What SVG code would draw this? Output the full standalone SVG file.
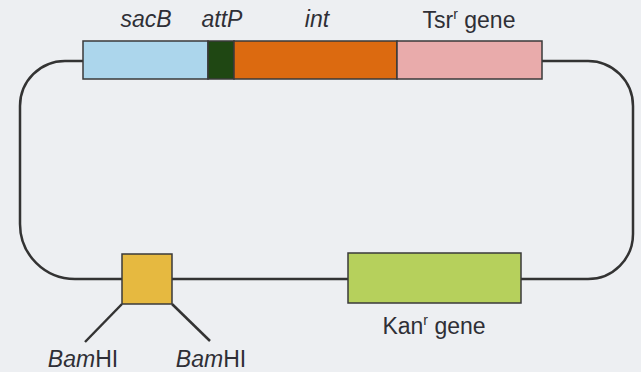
<svg xmlns="http://www.w3.org/2000/svg" width="641" height="372" viewBox="0 0 641 372">
<style>
.t{font-family:"Liberation Sans","DejaVu Sans",sans-serif;font-size:23px;fill:#2f2f36}
.i{font-style:italic}
.box{stroke:#3a3a3a;stroke-width:1.5}
.ln{fill:none;stroke:#333;stroke-width:2.5}
</style>
<rect width="641" height="372" fill="#edeff2"/>
<g id="connectors">
<path class="ln" d="M83,61 H65 A45,45 0 0 0 20,106 V224 A55,55 0 0 0 75,279 H348"/>
<path class="ln" d="M521,279 H588 A45,45 0 0 0 633,234 V106 A45,45 0 0 0 588,61 H542"/>
<line class="ln" x1="122" y1="304" x2="85" y2="342"/>
<line class="ln" x1="172" y1="304" x2="210" y2="341"/>
</g>
<g id="sacB"><rect class="box" x="83" y="41" width="125" height="38" fill="#acd6ec"/><text class="t i" x="146" y="27" text-anchor="middle">sacB</text></g>
<g id="attP"><rect class="box" x="208" y="41" width="26" height="38" fill="#1f4713"/><text class="t i" x="222" y="27" text-anchor="middle">attP</text></g>
<g id="int"><rect class="box" x="234" y="41" width="163" height="38" fill="#dc6a10"/><text class="t i" x="317" y="27" text-anchor="middle">int</text></g>
<g id="tsr"><rect class="box" x="397" y="41" width="145" height="38" fill="#e9abab"/><text class="t" x="469" y="28" text-anchor="middle">Tsr<tspan font-size="14" dy="-9">r</tspan><tspan dy="9"> gene</tspan></text></g>
<g id="bamhi"><rect class="box" x="122" y="254" width="50" height="50" fill="#e6b940"/>
<text class="t" x="83" y="367" text-anchor="middle"><tspan class="i">Bam</tspan>HI</text>
<text class="t" x="211" y="367" text-anchor="middle"><tspan class="i">Bam</tspan>HI</text></g>
<g id="kan"><rect class="box" x="348" y="253" width="173" height="50" fill="#b6d05c"/><text class="t" x="434" y="334" text-anchor="middle">Kan<tspan font-size="14" dy="-9">r</tspan><tspan dy="9"> gene</tspan></text></g>
</svg>
